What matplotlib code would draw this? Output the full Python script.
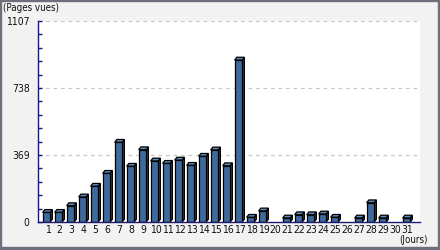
import matplotlib
matplotlib.use("Agg")
import matplotlib.pyplot as plt
from matplotlib.patches import Polygon, Rectangle

days = list(range(1, 32))
views = [53, 53, 90, 138, 197, 268, 439, 307, 398, 336, 323, 341, 312, 362, 397,
         310, 892, 26, 61, 0, 22, 40, 40, 44, 26, 0, 22, 106, 22, 0, 22]
y_ticks = [0, 369, 738, 1107]
y_label = "(Pages vues)"
x_label = "(Jours)"

W, H = 440, 250
fig = plt.figure(figsize=(W / 100, H / 100), dpi=100, facecolor="#f2f2f2")

L, R, T, B = 38, 420, 21, 222
ax = fig.add_axes([L / W, (H - B) / H, (R - L) / W, (B - T) / H])
ax.set_facecolor("white")

xmin = 1 - (47.5 - L) / 12.0
xmax = 31 + (R - 407.5) / 12.0
ax.set_xlim(xmin, xmax)
ax.set_ylim(0, 1107)

px_x = (xmax - xmin) / (R - L)
px_y = 1107 / (B - T)

front_w = 7.5 * px_x
dx = 2.2 * px_x
dy = 2.8 * px_y
front_col = "#3f6a9e"
side_col = "#27476f"
top_col = "#5f8bbf"

for d, v in zip(days, views):
    if v <= 0:
        continue
    x0 = d - (front_w + dx) / 2
    x1 = x0 + front_w
    ax.add_patch(Polygon([[x1, 0], [x1 + dx, dy], [x1 + dx, v + dy], [x1, v]],
                         closed=True, facecolor=side_col, edgecolor="black",
                         linewidth=0.9, zorder=3))
    ax.add_patch(Polygon([[x0, v], [x1, v], [x1 + dx, v + dy], [x0 + dx, v + dy]],
                         closed=True, facecolor=top_col, edgecolor="black",
                         linewidth=0.9, zorder=3))
    ax.add_patch(Rectangle((x0, 0), front_w, v, facecolor=front_col,
                           edgecolor="black", linewidth=0.9, zorder=4))

for yv in y_ticks[1:]:
    ax.axhline(yv, color="#c8c8c8", linestyle=(0, (3, 3)), linewidth=0.9, zorder=1)

for s in ["top", "right"]:
    ax.spines[s].set_visible(False)
for s in ["left", "bottom"]:
    ax.spines[s].set_color("#1a1a6e")
    ax.spines[s].set_linewidth(1.0)
    ax.spines[s].set_zorder(5)

fkw = dict(family="DejaVu Sans", stretch="condensed", color="#111111")
ax.set_yticks(y_ticks)
ax.set_yticklabels([str(t) for t in y_ticks], fontsize=7.5, **fkw)
ax.set_yticks([i * 73.8 for i in range(16)], minor=True)
ax.tick_params(axis="y", which="both", direction="in", length=3, width=1,
               color="#1a1a6e", pad=6)
ax.set_xticks(days)
ax.set_xticklabels([str(d) for d in days], fontsize=7.5, **fkw)
ax.tick_params(axis="x", length=0, pad=2.5)

fig.text(3 / W, 1 - 8 / H, y_label, fontsize=7, va="center", ha="left", **fkw)
fig.text(428 / W, 1 - 240 / H, x_label, fontsize=7, va="center", ha="right", **fkw)

bc = "#6f6f7b"
fig.patches.append(Rectangle((0, 0), 1 / W, 1, transform=fig.transFigure, color=bc, zorder=10))
fig.patches.append(Rectangle((0, 1 - 1 / H), 1, 1 / H, transform=fig.transFigure, color=bc, zorder=10))
fig.patches.append(Rectangle((1 - 2 / W, 0), 2 / W, 1, transform=fig.transFigure, color=bc, zorder=10))
fig.patches.append(Rectangle((0, 0), 1, 3 / H, transform=fig.transFigure, color=bc, zorder=10))

fig.savefig("out.png", dpi=100, facecolor=fig.get_facecolor())
